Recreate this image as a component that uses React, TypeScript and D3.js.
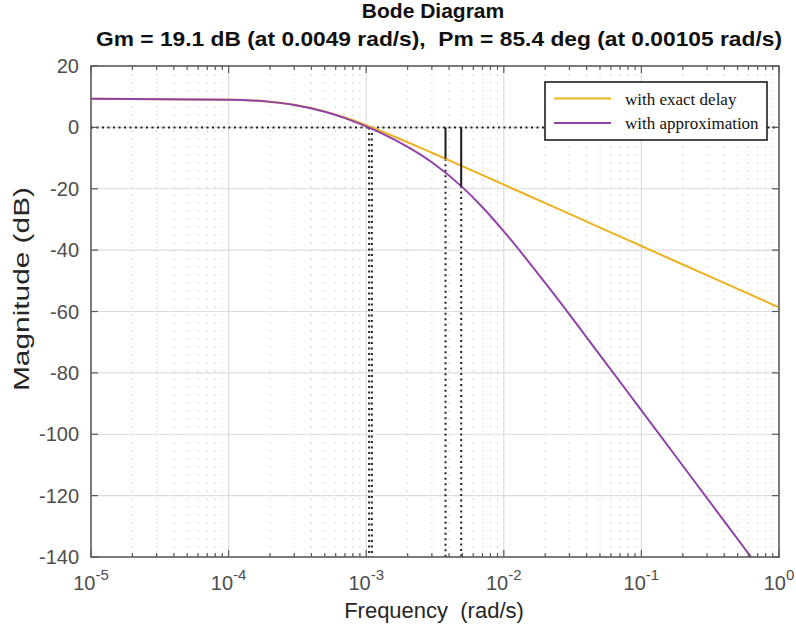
import React, { useEffect, useRef } from 'react';
import * as d3 from 'd3';

// frequency samples (rad/s) and magnitude (dB)
const exactFreqs = [1e-5, 1e-4, 2e-4, 3e-4, 5e-4, 7e-4, 1e-3, 1.5e-3, 2e-3, 3e-3, 5e-3, 7e-3, 1e-2, 2e-2, 5e-2, 1e-1, 2e-1, 5e-1, 1];
const exactDb = [9.3, 9.04, 8.33, 7.36, 5.21, 3.21, 0.7, -2.48, -4.85, -8.28, -12.67, -15.57, -18.67, -24.68, -32.64, -38.66, -44.68, -52.64, -58.66];

const approxFreqs = [1e-5, 1e-4, 2e-4, 3e-4, 5e-4, 7e-4, 1e-3, 1.5e-3, 2e-3, 3e-3, 5e-3, 7e-3, 1e-2, 2e-2, 5e-2, 1e-1, 2e-1, 5e-1, 0.65];
const approxDb = [9.3, 9.04, 8.31, 7.32, 5.11, 3.01, 0.3, -3.36, -6.36, -11.37, -19.47, -26.02, -33.87, -50.7, -74.21, -92.22, -110.26, -134.14, -140.98];

// gain margin markers (phase crossover) and phase margin frequencies
const gmFreqs = [0.00377, 0.0049];
const gmDb = [-10.2, -19.1];
const pmFreqs = [0.00105, 0.0011];

const xDecades = [-5, -4, -3, -2, -1, 0];
const yTicks = [20, 0, -20, -40, -60, -80, -100, -120, -140];
const legendLabels = ['with exact delay', 'with approximation'];
const seriesColors = ['#EDB120', '#9142AA'];

const titleLines = ['Bode Diagram', 'Gm = 19.1 dB (at 0.0049 rad/s),  Pm = 85.4 deg (at 0.00105 rad/s)'];

export default function App() {
  const svgRef = useRef<SVGSVGElement | null>(null);

  useEffect(() => {
    if (!svgRef.current) return;
    const svg = d3.select(svgRef.current);
    svg.selectAll('*').remove();

    const W = 796;
    const H = 632;
    const left = 91, right = 779, top = 66, bottom = 557;
    const font = '"Liberation Sans", Arial, Helvetica, sans-serif';

    const x = d3.scaleLog().domain([1e-5, 1]).range([left, right]);
    const y = d3.scaleLinear().domain([-140, 20]).range([bottom, top]);

    svg.attr('width', W).attr('height', H);

    svg.append('rect').attr('width', W).attr('height', H).attr('fill', '#fff');

    svg.append('defs').append('clipPath').attr('id', 'plotclip')
      .append('rect').attr('x', left).attr('y', top).attr('width', right - left).attr('height', bottom - top);

    // minor grid (dotted)
    const minorTicks: number[] = [];
    xDecades.slice(0, -1).forEach((e) => {
      for (let k = 2; k <= 9; k++) minorTicks.push(k * Math.pow(10, e));
    });
    svg.append('g').selectAll('line').data(minorTicks).join('line')
      .attr('x1', (d) => x(d)).attr('x2', (d) => x(d))
      .attr('y1', top).attr('y2', bottom)
      .attr('stroke', '#d6d6d6').attr('stroke-width', 1).attr('stroke-dasharray', '2,6');

    // major grid
    svg.append('g').selectAll('line').data(xDecades.slice(1, -1)).join('line')
      .attr('x1', (d) => x(Math.pow(10, d))).attr('x2', (d) => x(Math.pow(10, d)))
      .attr('y1', top).attr('y2', bottom)
      .attr('stroke', '#dcdcdc').attr('stroke-width', 1.2);
    svg.append('g').selectAll('line').data(yTicks.slice(1, -1)).join('line')
      .attr('x1', left).attr('x2', right)
      .attr('y1', (d) => y(d)).attr('y2', (d) => y(d))
      .attr('stroke', '#dcdcdc').attr('stroke-width', 1.2);

    const plot = svg.append('g').attr('clip-path', 'url(#plotclip)');

    // 0 dB dotted reference
    plot.append('line')
      .attr('x1', left).attr('x2', right).attr('y1', y(0)).attr('y2', y(0))
      .attr('stroke', '#222').attr('stroke-width', 2).attr('stroke-dasharray', '2,3.5');

    // phase margin verticals
    plot.selectAll('line.pm').data(pmFreqs).join('line')
      .attr('class', 'pm')
      .attr('x1', (d) => x(d)).attr('x2', (d) => x(d))
      .attr('y1', y(0)).attr('y2', bottom)
      .attr('stroke', '#222').attr('stroke-width', 2).attr('stroke-dasharray', '2,3.5');

    // gain margin verticals below the curve
    plot.selectAll('line.gmv').data(gmFreqs).join('line')
      .attr('class', 'gmv')
      .attr('x1', (d) => x(d)).attr('x2', (d) => x(d))
      .attr('y1', (d, i) => y(gmDb[i])).attr('y2', bottom)
      .attr('stroke', '#222').attr('stroke-width', 2).attr('stroke-dasharray', '2,3.5');

    const line = d3.line<[number, number]>()
      .x((d) => x(d[0]))
      .y((d) => y(d[1]))
      .curve(d3.curveMonotoneX);

    plot.append('path')
      .attr('d', line(exactFreqs.map((f, i) => [f, exactDb[i]] as [number, number])))
      .attr('fill', 'none').attr('stroke', seriesColors[0]).attr('stroke-width', 2);
    plot.append('path')
      .attr('d', line(approxFreqs.map((f, i) => [f, approxDb[i]] as [number, number])))
      .attr('fill', 'none').attr('stroke', seriesColors[1]).attr('stroke-width', 2);

    // gain margin stems
    plot.selectAll('line.gm').data(gmFreqs).join('line')
      .attr('class', 'gm')
      .attr('x1', (d) => x(d)).attr('x2', (d) => x(d))
      .attr('y1', y(0)).attr('y2', (d, i) => y(gmDb[i]))
      .attr('stroke', '#1a1a1a').attr('stroke-width', 2);

    // axes box + ticks
    const axisColor = '#5a5a5a';
    svg.append('rect')
      .attr('x', left).attr('y', top).attr('width', right - left).attr('height', bottom - top)
      .attr('fill', 'none').attr('stroke', axisColor).attr('stroke-width', 1.6);

    const majorX = xDecades.map((e) => Math.pow(10, e));
    const tickG = svg.append('g').attr('stroke', axisColor).attr('stroke-width', 1.2);
    [bottom, top].forEach((yy) => {
      const dir = yy === bottom ? -1 : 1;
      tickG.selectAll(null).data(minorTicks).join('line')
        .attr('x1', (d) => x(d)).attr('x2', (d) => x(d))
        .attr('y1', yy).attr('y2', yy + dir * 4);
      tickG.selectAll(null).data(majorX).join('line')
        .attr('x1', (d) => x(d)).attr('x2', (d) => x(d))
        .attr('y1', yy).attr('y2', yy + dir * 7);
    });
    [left, right].forEach((xx) => {
      const dir = xx === left ? 1 : -1;
      tickG.selectAll(null).data(yTicks).join('line')
        .attr('x1', xx).attr('x2', xx + dir * 7)
        .attr('y1', (d) => y(d)).attr('y2', (d) => y(d));
    });

    // y tick labels
    svg.append('g').selectAll('text').data(yTicks).join('text')
      .attr('x', left - 12).attr('y', (d) => y(d) + 7)
      .attr('text-anchor', 'end')
      .attr('font-family', font).attr('font-size', 20).attr('fill', '#4d4d4d')
      .text((d) => String(d));

    // x tick labels 10^e
    const xl = svg.append('g').selectAll('text').data(xDecades).join('text')
      .attr('x', (d) => x(Math.pow(10, d)))
      .attr('y', 590)
      .attr('text-anchor', 'middle')
      .attr('font-family', font).attr('fill', '#4d4d4d');
    xl.append('tspan').attr('font-size', 20).text('10');
    xl.append('tspan').attr('font-size', 15).attr('dy', -10).text((d) => String(d));

    // axis labels
    svg.append('text')
      .attr('x', 434).attr('y', 618)
      .attr('text-anchor', 'middle')
      .style('white-space', 'pre')
      .attr('font-family', font).attr('font-size', 22).attr('fill', '#262626')
      .text('Frequency  (rad/s)');
    svg.append('text')
      .attr('transform', 'translate(29,289) rotate(-90)')
      .attr('x', -102)
      .attr('textLength', 204).attr('lengthAdjust', 'spacingAndGlyphs')
      .attr('font-family', font).attr('font-size', 21.5).attr('fill', '#262626')
      .text('Magnitude (dB)');

    // title
    svg.append('text')
      .attr('x', 433).attr('y', 18)
      .attr('text-anchor', 'middle')
      .attr('font-family', font).attr('font-weight', 'bold').attr('font-size', 21).attr('fill', '#111')
      .text(titleLines[0]);
    svg.append('text')
      .attr('x', 96).attr('y', 46)
      .attr('textLength', 686).attr('lengthAdjust', 'spacingAndGlyphs')
      .style('white-space', 'pre')
      .attr('font-family', font).attr('font-weight', 'bold').attr('font-size', 21).attr('fill', '#111')
      .text(titleLines[1]);

    // legend
    const lg = svg.append('g');
    lg.append('rect')
      .attr('x', 545).attr('y', 82).attr('width', 222).attr('height', 58)
      .attr('fill', '#fff').attr('stroke', '#111').attr('stroke-width', 1.5);
    legendLabels.forEach((label, i) => {
      const ly = 98.5 + i * 24.5;
      lg.append('line')
        .attr('x1', 554).attr('x2', 611).attr('y1', ly).attr('y2', ly)
        .attr('stroke', seriesColors[i]).attr('stroke-width', 2);
      lg.append('text')
        .attr('x', 625).attr('y', ly + 6)
        .attr('font-family', '"Liberation Serif", "Times New Roman", serif')
        .attr('font-size', 17).attr('fill', '#111')
        .text(label);
    });
  }, []);

  return (
    <div style={{ position: 'absolute', left: 0, top: 0, width: 796, height: 632 }}>
      <svg ref={svgRef} style={{ display: 'block' }} />
    </div>
  );
}
